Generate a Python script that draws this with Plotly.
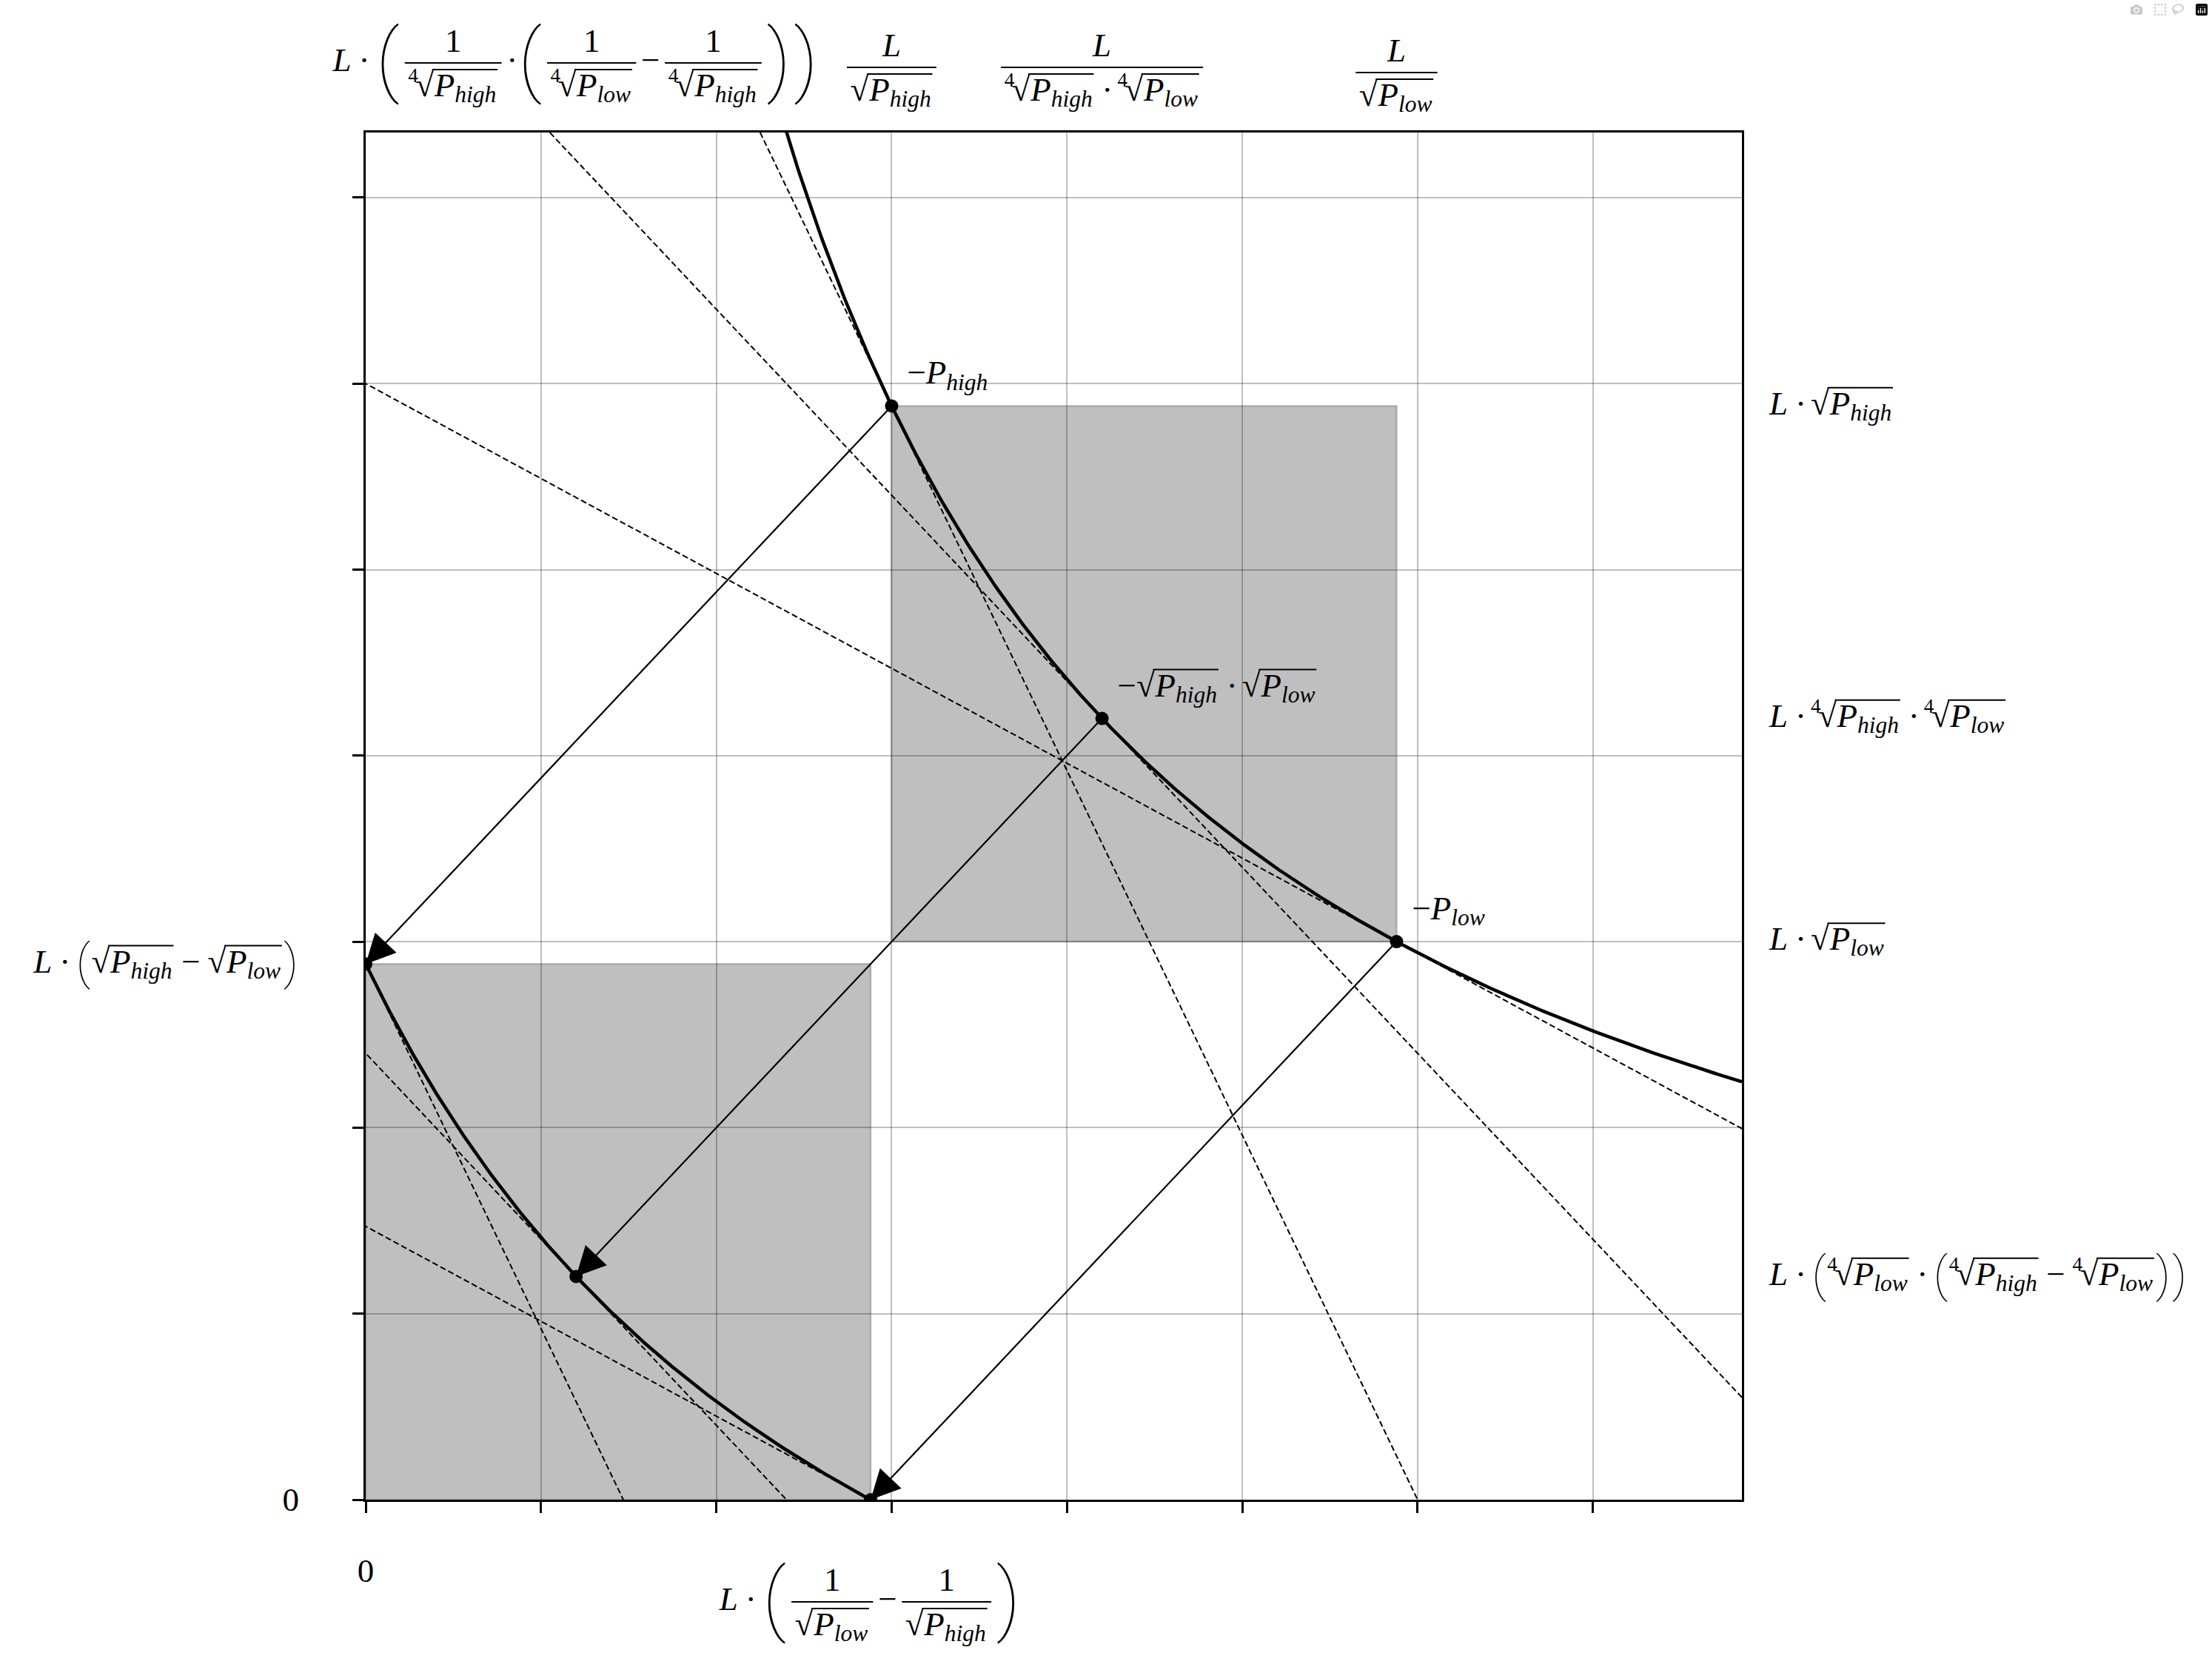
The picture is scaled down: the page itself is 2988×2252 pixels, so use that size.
import numpy as np
import plotly.graph_objects as go

# ---------------- data ----------------
L = 4.2
sqrt_p_high = 1.4
sqrt_p_low = 1 / 1.4
x_range = [0.0, 7.85]
y_range = [0.0, 7.35]
x_ticks = [0, 1, 2, 3, 4, 5, 6, 7]
y_ticks = [0, 1, 2, 3, 4, 5, 6, 7]

sqrt_p_mid = (sqrt_p_high * sqrt_p_low) ** 0.5
sqrt_prices = [sqrt_p_high, sqrt_p_mid, sqrt_p_low]

# reserves on the real curve x*y = L^2
upper_pts = [(L / s, L * s) for s in sqrt_prices]
x_off = L / sqrt_p_high
y_off = L * sqrt_p_low
lower_pts = [(x - x_off, y - y_off) for (x, y) in upper_pts]
slopes = [-(s ** 2) for s in sqrt_prices]

# ---------------- geometry ----------------
W, H = 2988, 2252
ML, MR, MT, MB = 494, 635, 179, 226
PW = W - ML - MR
PH = H - MT - MB


def px_x(x):
    return ML + (x - x_range[0]) / (x_range[1] - x_range[0]) * PW


def py_y(y):
    return MT + (y_range[1] - y) / (y_range[1] - y_range[0]) * PH


# ---------------- math text mini-layout (pixel space) ----------------
F = 45.0
FONT = "Liberation Serif"
PAREN_FONT = "Roboto, Lato, Liberation Serif"
PAREN_W = 0.30      # paren advance (em of its own size)
PAREN_C = 0.30      # paren vertical centre above its baseline (em)
V_H = 0.80          # vinculum height above baseline (em)
W_REG = {'0': .5, '1': .5, '4': .5, '(': .333, ')': .333, '·': .25, '−': .564, ' ': .25, '√': .549}
W_IT = {'L': .556, 'P': .611, 'h': .5, 'i': .278, 'g': .5, 'l': .278, 'o': .5, 'w': .667}

texts = []   # (px, anchor_py, html, size)
ptexts = []  # parens
lines = []   # (x0, x1, y, width)


def T(s, italic=False, scale=1.0, dy=0.0):
    tb = W_IT if italic else W_REG
    return {'k': 't', 'h': ('<i>%s</i>' % s if italic else s),
            'w': sum(tb[c] for c in s) * scale, 's': scale, 'dy': dy}


def GAP(em):
    return {'k': 'gap', 'w': em}


def RAD(inner, idx=None):
    return {'k': 'rad', 'in': inner, 'idx': idx}


def FRAC(num, den):
    return {'k': 'frac', 'num': num, 'den': den}


def BIGP(ch, scale):
    return {'k': 'bigp', 'h': ch, 's': scale}


def put(x, baseline, html, size, dest=None):
    (texts if dest is None else dest).append((x, baseline - 0.25 * size, html, size))


def row(tokens, x0, b, emit):
    x = x0
    for t in tokens:
        k = t['k']
        if k == 't':
            if emit:
                put(x, b + t['dy'] * F, t['h'], t['s'] * F)
            x += t['w'] * F
        elif k == 'gap':
            x += t['w'] * F
        elif k == 'rad':
            if t['idx']:
                if emit:
                    put(x, b - 0.42 * F, t['idx'], 0.6 * F)
                x += 0.22 * F
            xr = x
            if emit:
                put(xr, b, '√', F)
            x += (0.549 + 0.02) * F
            w_in = row(t['in'], x, b, emit)
            if emit:
                lines.append((xr + 0.50 * F, x + w_in + 0.04 * F, b - V_H * F, 2.0))
            x += w_in + 0.06 * F
        elif k == 'frac':
            a = b - 0.25 * F
            wn = row(t['num'], 0, 0, False)
            wd = row(t['den'], 0, 0, False)
            bw = max(wn, wd) + 0.2 * F
            x += 0.1 * F
            if emit:
                row(t['num'], x + (bw - wn) / 2, a - 0.33 * F, True)
                row(t['den'], x + (bw - wd) / 2, a + 1.0 * F, True)
                lines.append((x, x + bw, a, 2.2))
            x += bw + 0.1 * F
        elif k == 'bigp':
            s = t['s'] * F
            if emit:
                put(x + 0.02 * s, b - 0.25 * F + PAREN_C * s, t['h'], s, ptexts)
            x += (PAREN_W + 0.04) * s
    return x - x0


def place(tokens, axis_y, left=None, center=None, right=None):
    w = row(tokens, 0, 0, False)
    if center is not None:
        left = center - w / 2
    elif right is not None:
        left = right - w
    row(tokens, left, axis_y + 0.25 * F, True)


def Pv(sub):
    return [T('P', True), T(sub, True, 0.7, 0.18)]


Ph, Pl = Pv('high'), Pv('low')
R2h, R2l = RAD(Ph), RAD(Pl)
R4h, R4l = RAD(Ph, '4'), RAD(Pl, '4')
Ldot = [T('L', True), GAP(.22), T('·'), GAP(.22)]
DOT = [GAP(.22), T('·'), GAP(.22)]
MINUS = [GAP(.22), T('−'), GAP(.22)]
one = [T('1')]
Lnum = [T('L', True)]
BIG = 2.4
MID = 1.45

# top labels (secondary x ticks)
place(Ldot + [BIGP('(', BIG), FRAC(one, [R4h]), GAP(.05), T('·'), GAP(.05), BIGP('(', BIG),
              FRAC(one, [R4l]), GAP(.05), T('−'), GAP(.05), FRAC(one, [R4h]),
              BIGP(')', BIG), BIGP(')', BIG)], 85, center=px_x(lower_pts[1][0]))
place([FRAC(Lnum, [R2h])], 91, center=px_x(upper_pts[0][0]))
place([FRAC(Lnum, [R4h] + DOT + [R4l])], 91, center=px_x(upper_pts[1][0]))
place([FRAC(Lnum, [R2l])], 98, center=px_x(upper_pts[2][0]))

# bottom labels
place([T('0')], 2137 - 0.25 * F, center=px_x(0))
place(Ldot + [BIGP('(', BIG), FRAC(one, [R2l]), GAP(.05), T('−'), GAP(.05), FRAC(one, [R2h]),
              BIGP(')', BIG)], 2164, center=px_x(lower_pts[2][0]))

# left labels
place([T('0')], py_y(0) + 0.088 * F, right=404)
place(Ldot + [BIGP('(', MID), R2h] + MINUS + [R2l, BIGP(')', MID)], py_y(lower_pts[0][1]), right=404)

# right labels
right_lbls = [
    (upper_pts[0][1], Ldot + [R2h]),
    (upper_pts[1][1], Ldot + [R4h] + DOT + [R4l]),
    (upper_pts[2][1], Ldot + [R2l]),
    (lower_pts[1][1], Ldot + [BIGP('(', MID), R4l] + DOT + [BIGP('(', MID), R4h] + MINUS +
     [R4l, BIGP(')', MID), BIGP(')', MID)]),
]
for yv, toks in right_lbls:
    place(toks, py_y(yv), left=2390)

# point labels
pt_lbls = [[T('−')] + Ph, [T('−'), R2h] + DOT + [R2l], [T('−')] + Pl]
for (xv, yv), toks in zip(upper_pts, pt_lbls):
    place(toks, py_y(yv) - 30 - 0.25 * F, left=px_x(xv) + 21)

# ---------------- figure ----------------
fig = go.Figure()

# tangent lines (dashed)
tx, ty = [], []
for pts in (upper_pts, lower_pts):
    for (x0, y0), m in zip(pts, slopes):
        for xx in (-1.0, 9.0):
            tx.append(xx)
            ty.append(y0 + m * (xx - x0))
        tx.append(None)
        ty.append(None)
fig.add_trace(go.Scatter(x=tx, y=ty, mode='lines',
                         line=dict(color='black', width=2, dash='8px,4px'), hoverinfo='skip'))

# curves
xu = np.linspace(L ** 2 / y_range[1] * 0.98, x_range[1], 500)
fig.add_trace(go.Scatter(x=xu, y=L ** 2 / xu, mode='lines',
                         line=dict(color='black', width=4.5), hoverinfo='skip'))
xl = np.linspace(0, lower_pts[2][0], 400)
fig.add_trace(go.Scatter(x=xl, y=L ** 2 / (xl + x_off) - y_off, mode='lines',
                         line=dict(color='black', width=4.5), hoverinfo='skip'))

# points
allpts = upper_pts + lower_pts
fig.add_trace(go.Scatter(x=[p[0] for p in allpts], y=[p[1] for p in allpts], mode='markers',
                         marker=dict(color='black', size=18), hoverinfo='skip'))

# label text on a full-figure pixel overlay
fig.add_trace(go.Scatter(
    x=[t[0] for t in texts], y=[t[1] for t in texts], xaxis='x2', yaxis='y2',
    text=[t[2] for t in texts], mode='text', textposition='middle right',
    textfont=dict(family=FONT, size=[t[3] for t in texts], color='black'),
    hoverinfo='skip'))
fig.add_trace(go.Scatter(
    x=[t[0] for t in ptexts], y=[t[1] for t in ptexts], xaxis='x2', yaxis='y2',
    text=[t[2] for t in ptexts], mode='text', textposition='middle right',
    textfont=dict(family=PAREN_FONT, size=[t[3] for t in ptexts], color='black', weight=100),
    hoverinfo='skip'))

# fraction bars and radical vinculums
for w_ in sorted(set(l[3] for l in lines)):
    lx, ly = [], []
    for x0, x1, yb, wl in lines:
        if wl == w_:
            lx += [x0, x1, None]
            ly += [yb, yb, None]
    fig.add_trace(go.Scatter(x=lx, y=ly, xaxis='x2', yaxis='y2', mode='lines',
                             line=dict(color='black', width=w_), hoverinfo='skip'))

shapes = []
for lo, hi in ((upper_pts[0], upper_pts[2]), (lower_pts[0], lower_pts[2])):
    shapes.append(dict(type='rect', xref='x', yref='y', layer='below',
                       x0=lo[0], x1=hi[0], y0=hi[1], y1=lo[1],
                       fillcolor='rgba(128,128,128,0.5)',
                       line=dict(color='rgba(128,128,128,0.5)', width=2.5)))

# arrows
annotations = []
for (xa, ya), (xb, yb) in zip(upper_pts, lower_pts):
    annotations.append(dict(x=xb, y=yb, ax=xa, ay=ya, xref='x', yref='y', axref='x', ayref='y',
                            text='', showarrow=True, arrowhead=2, arrowsize=3.6, arrowwidth=2.2,
                            arrowcolor='black', standoff=0))

axis_common = dict(showline=True, linecolor='black', linewidth=3, mirror=True,
                   ticks='outside', ticklen=15, tickwidth=3, tickcolor='black',
                   showticklabels=False, showgrid=True, gridcolor='rgba(0,0,0,0.25)',
                   gridwidth=2, zeroline=False, fixedrange=True)
fig.update_layout(
    width=W, height=H, margin=dict(l=0, r=0, t=0, b=0, autoexpand=False),
    paper_bgcolor='white', plot_bgcolor='rgba(0,0,0,0)', showlegend=False,
    xaxis=dict(domain=[ML / W, (W - MR) / W], range=x_range, tickvals=x_ticks, **axis_common),
    yaxis=dict(domain=[MB / H, (H - MT) / H], range=y_range, tickvals=y_ticks, **axis_common),
    xaxis2=dict(domain=[0, 1], range=[0, W], visible=False, anchor='y2', fixedrange=True),
    yaxis2=dict(domain=[0, 1], range=[H, 0], visible=False, anchor='x2', fixedrange=True),
    shapes=shapes, annotations=annotations,
)

fig.write_html("out.html", post_script="document.body.style.margin='0px';")
